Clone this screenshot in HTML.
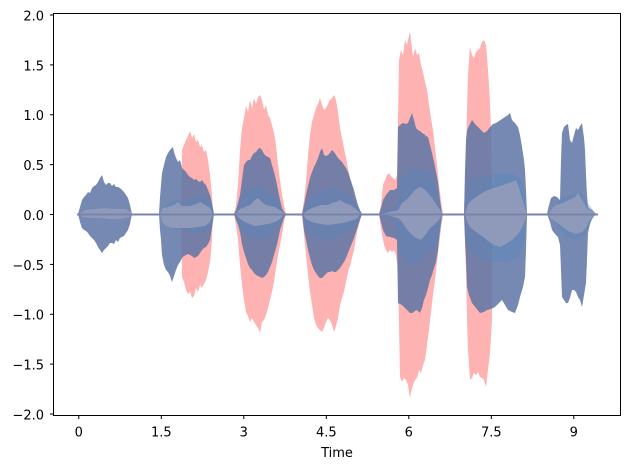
<!DOCTYPE html>
<html><head><meta charset="utf-8"><style>
html,body{margin:0;padding:0;background:#fff;}
svg{display:block;}
text{font-family:"DejaVu Sans","Liberation Sans",sans-serif;font-size:13px;fill:#000;}
</style></head><body>
<svg width="630" height="469" viewBox="0 0 630 469" xmlns="http://www.w3.org/2000/svg">
<rect width="630" height="469" fill="#fff"/>
<!-- red layer -->
<g fill="#ff0000" fill-opacity="0.3">
<polygon points="181,214 182,150 184,145 186,140 188,136 190,131 192,138 194,134 196,142 198,140 200,147 202,145 204,152 206,150 208,160 210,175 212,195 213,214 212,240 210,262 208,272 206,280 204,284 202,288 200,285 198,292 196,288 194,296 192,298 190,292 188,294 186,290 184,282 182,277"/>
<polygon points="234,214 236,205 238,185 240,150 242,128 244,118 246,106 248,112 250,100 252,108 254,98 256,104 258,97 260,95 262,100 264,110 266,105 268,115 270,118 272,125 274,133 276,145 278,165 280,180 282,195 284,205 286,214 284,222 282,235 280,245 278,255 276,268 274,282 272,292 270,300 268,308 266,315 264,320 262,322 260,333 258,328 256,325 254,322 252,318 250,322 248,316 246,312 244,300 242,285 240,265 238,240 236,225"/>
<polygon points="302,214 304,200 306,182 308,155 310,135 312,122 314,115 316,108 318,104 320,98 322,105 324,110 326,108 328,104 330,100 332,98 334,95 336,100 338,112 340,128 342,138 344,148 346,158 348,168 350,178 352,186 354,196 356,202 358,208 360,212 362,214 360,220 358,228 356,238 354,250 352,258 350,266 348,272 346,282 344,292 342,298 340,305 338,318 336,326 334,332 332,325 330,320 328,318 326,322 324,328 322,332 320,330 318,328 316,325 314,318 312,305 310,292 308,275 306,255 304,235"/>
<polygon points="379,214 381,205 383,185 385,180 387,175 389,173 391,176 393,178 395,180 397,175 398,120 399,60 401,50 403,55 405,40 407,45 409,35 410,32 411,40 413,57 415,48 417,55 419,53 421,65 423,72 425,82 427,90 429,105 431,118 433,130 435,148 437,165 439,185 441,200 443,214 441,228 439,245 437,262 435,280 433,295 431,312 429,330 427,345 425,360 423,365 421,373 419,370 417,378 415,380 413,385 411,392 410,398 408,385 406,380 404,378 402,382 400,377 398,270 396,255 394,250 392,252 390,250 388,253 386,250 384,245 382,235 380,222"/>
<polygon points="464,214 466,160 467,110 468,75 470,47 472,55 474,58 476,52 478,50 480,48 482,42 484,40 486,45 487,57 488,70 489,85 490,103 491,130 492,214 492,320 490,353 488,370 486,387 484,380 482,378 480,377 478,372 476,375 474,373 472,378 470,380 468,350 467,320 466,270"/>
</g>
<!-- blue layer -->
<g fill="#5d74a4" fill-opacity="0.85">
<polygon points="78,214 80,207 82,200 84,197 86,195 88,192 90,193 92,188 94,186 96,185 98,182 100,178 102,175 104,182 106,185 108,183 110,183 112,186 114,184 116,187 118,187 120,188 122,190 124,192 126,195 128,198 130,205 132,214 130,224 128,230 126,233 124,236 122,237 120,238 118,242 116,240 114,244 112,243 110,243 108,246 106,248 104,250 102,253 100,250 98,247 96,243 94,240 92,238 90,236 88,233 86,231 84,230 82,228 80,222"/>
<polygon points="159,214 160,197 161,185 162,173 164,165 166,157 168,153 170,150 172,148 173,147 174,152 176,158 178,162 180,160 182,168 184,170 186,172 188,175 190,177 192,178 194,180 196,179 198,181 200,182 202,180 204,183 206,185 208,190 210,195 212,203 214,214 212,228 210,240 208,244 206,247 204,248 202,250 200,253 198,256 196,257 194,258 192,256 190,255 188,254 186,255 184,256 182,258 180,262 178,265 176,270 174,276 172,282 170,276 168,272 166,270 164,265 162,255 161,240 160,230"/>
<polygon points="234,214 236,210 238,203 240,195 242,180 244,165 246,162 248,160 250,160 252,156 254,153 256,152 258,149 260,148 262,150 264,154 266,156 268,157 270,158 272,165 274,172 276,180 278,190 280,200 282,208 284,212 286,214 284,218 282,224 280,230 278,240 276,248 274,255 272,262 270,267 268,272 266,275 264,277 262,278 260,277 258,276 256,275 254,273 252,270 250,268 248,264 246,258 244,252 242,244 240,232 238,225 236,220"/>
<polygon points="302,214 304,205 306,195 308,186 310,178 312,172 314,167 316,163 318,158 320,152 322,148 324,155 326,156 328,155 330,153 332,150 334,152 336,155 338,158 340,160 342,162 344,165 346,168 348,172 350,178 352,184 354,190 356,198 358,205 360,210 362,214 360,220 358,226 356,232 354,238 352,243 350,248 348,253 346,258 344,262 342,265 340,268 338,270 336,272 334,272 332,271 330,272 328,272 326,274 324,276 322,278 320,278 318,276 316,273 314,270 312,265 310,258 308,250 306,240 304,230"/>
<polygon points="379,214 381,208 383,200 386,195 390,190 394,190 397,188 398,127 400,125 403,123 406,124 408,123 410,118 412,113 414,120 416,128 418,130 420,131 422,133 424,134 426,136 428,137 430,145 432,153 434,162 436,172 438,182 440,200 442,214 440,230 438,250 436,262 434,268 432,275 430,280 428,288 426,295 424,300 422,308 420,313 418,311 416,310 414,312 412,313 410,313 408,311 406,309 404,307 402,305 400,304 398,303 397,240 394,238 390,237 386,236 383,230 381,222"/>
<polygon points="464,214 465,170 466,140 467,130 470,124 472,120 475,124 478,127 481,130 484,133 487,131 490,127 493,124 496,123 499,121 502,119 505,117 508,115 510,113 512,120 515,123 518,127 520,135 522,147 524,160 525,170 526,190 527,214 526,250 525,277 523,287 520,297 518,305 515,313 512,312 508,310 505,305 502,300 499,303 495,307 491,309 487,310 484,312 480,313 476,308 472,303 469,295 467,287 466,260 465,240"/>
<polygon points="547,214 549,205 551,198 554,196 557,197 560,200 561,160 562,133 564,127 566,125 568,124 570,140 572,143 574,135 576,128 578,130 580,126 582,123 584,138 585,150 586,175 587,195 588,207 590,209 592,210 594,212 596,214 594,216 592,219 590,224 588,233 587,260 586,283 584,295 582,307 580,300 578,297 576,292 574,290 572,290 570,298 568,303 566,303 564,300 562,297 561,270 560,245 558,237 555,234 552,230 550,222"/>
</g>
<!-- steel mid layer -->
<g fill="#4f86bf" fill-opacity="0.35">
<polygon points="160,214 165,205 175,200 185,203 190,198 200,196 208,198 212,205 214,214 212,225 205,232 195,234 185,230 175,229 165,226"/>
<polygon points="235,214 240,200 245,190 252,188 260,184 268,190 275,195 280,205 285,214 280,225 272,235 262,240 252,238 245,234 240,228"/>
<polygon points="303,214 308,200 315,194 325,190 335,187 345,192 352,200 358,208 362,214 356,225 348,232 335,238 322,240 312,235 306,228"/>
<polygon points="380,214 390,208 398,205 400,180 410,168 420,170 430,172 436,185 440,205 443,214 440,232 435,248 425,255 415,266 405,262 399,248 395,222"/>
<polygon points="465,214 467,185 472,178 482,177 495,174 510,173 520,178 524,190 527,214 524,245 518,258 505,262 490,262 478,258 470,250 466,235"/>
<polygon points="548,214 555,206 562,198 572,195 580,192 587,202 593,210 596,214 590,222 585,235 575,239 565,236 558,226"/>
</g>
<!-- core layer -->
<g fill="#8f99ba">
<polygon points="79,214 85,210 95,209 105,208 115,209 125,209 131,212 132,214 130,217 120,219 110,219 100,218 90,218 82,217"/>
<polygon points="160,214 163,208 168,207 174,205 178,202 182,206 190,206 196,204 200,202 205,205 210,208 213,214 210,222 205,226 198,227 190,228 180,228 172,228 166,226 162,222"/>
<polygon points="235,214 240,209 245,207 250,205 255,200 258,198 262,202 266,205 270,206 275,207 280,210 285,214 280,219 275,222 268,224 262,225 255,226 250,224 245,222 240,219"/>
<polygon points="303,214 308,210 312,208 318,206 322,205 328,205 332,203 336,202 340,200 345,203 350,205 356,209 361,214 356,219 350,221 343,223 336,224 328,225 320,224 312,222 306,219"/>
<polygon points="381,214 390,212 398,210 402,203 406,200 410,196 414,191 418,188 421,187 425,190 428,193 432,198 436,204 440,210 442,214 439,220 435,224 430,228 426,234 421,240 416,238 411,234 406,228 402,222 398,218 390,216"/>
<polygon points="465,214 468,204 472,200 476,197 482,193 488,190 494,188 500,186 506,184 512,182 516,180 519,188 522,198 525,208 527,214 525,220 522,228 518,234 512,240 506,244 500,247 494,245 488,241 482,236 476,232 470,227 467,222"/>
<polygon points="548,214 552,209 556,205 560,204 565,202 568,200 572,199 576,196 578,193 581,198 584,203 587,208 590,210 594,212 596,214 593,217 589,221 586,228 582,232 576,234 570,232 564,228 560,225 555,221 550,218"/>
</g>
<line x1="77" y1="214.5" x2="598" y2="214.5" stroke="#7885ab" stroke-width="2"/>
<!-- axes frame -->
<rect x="53.5" y="13.5" width="567" height="402" fill="none" stroke="#000" stroke-width="1"/>
<!-- y ticks -->
<g stroke="#000" stroke-width="1">
<line x1="50" y1="15" x2="53.5" y2="15"/>
<line x1="50" y1="64.9" x2="53.5" y2="64.9"/>
<line x1="50" y1="114.75" x2="53.5" y2="114.75"/>
<line x1="50" y1="164.6" x2="53.5" y2="164.6"/>
<line x1="50" y1="214.5" x2="53.5" y2="214.5"/>
<line x1="50" y1="264.4" x2="53.5" y2="264.4"/>
<line x1="50" y1="314.25" x2="53.5" y2="314.25"/>
<line x1="50" y1="364.1" x2="53.5" y2="364.1"/>
<line x1="50" y1="414" x2="53.5" y2="414"/>
</g>
<g text-anchor="end">
<text x="44" y="20.5">2.0</text>
<text x="44" y="70.4">1.5</text>
<text x="44" y="120.2">1.0</text>
<text x="44" y="170.1">0.5</text>
<text x="44" y="220">0.0</text>
<text x="44" y="269.9">−0.5</text>
<text x="44" y="319.7">−1.0</text>
<text x="44" y="369.6">−1.5</text>
<text x="44" y="419.5">−2.0</text>
</g>
<!-- x ticks -->
<g stroke="#000" stroke-width="1">
<line x1="78.8" y1="415.5" x2="78.8" y2="419"/>
<line x1="161.3" y1="415.5" x2="161.3" y2="419"/>
<line x1="243.8" y1="415.5" x2="243.8" y2="419"/>
<line x1="326.3" y1="415.5" x2="326.3" y2="419"/>
<line x1="408.8" y1="415.5" x2="408.8" y2="419"/>
<line x1="491.3" y1="415.5" x2="491.3" y2="419"/>
<line x1="573.8" y1="415.5" x2="573.8" y2="419"/>
</g>
<g text-anchor="middle">
<text x="78.8" y="436.5">0</text>
<text x="161.3" y="436.5">1.5</text>
<text x="243.8" y="436.5">3</text>
<text x="326.3" y="436.5">4.5</text>
<text x="408.8" y="436.5">6</text>
<text x="491.3" y="436.5">7.5</text>
<text x="573.8" y="436.5">9</text>
<text x="337" y="457">Time</text>
</g>
</svg>
</body></html>
